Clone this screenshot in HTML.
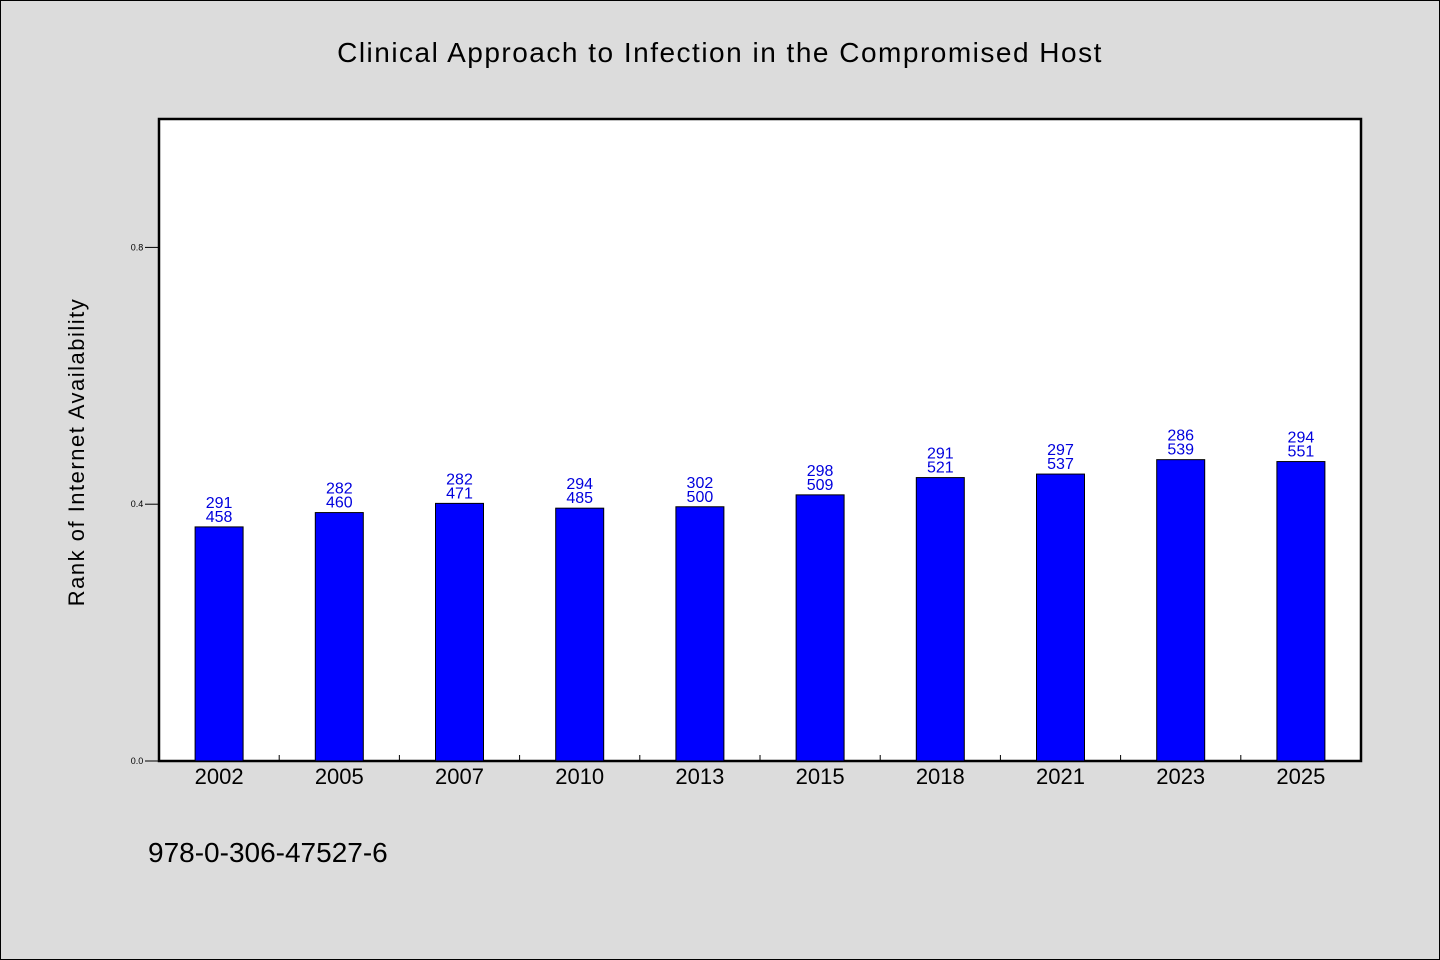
<!DOCTYPE html>
<html><head><meta charset="utf-8"><style>
html,body{margin:0;padding:0;background:#dcdcdc;}
svg{display:block;font-family:"WenQuanYi Zen Hei","Liberation Sans",sans-serif;}
</style></head><body>
<svg id="chart" width="1440" height="960">
<rect x="0.5" y="0.5" width="1439" height="959" fill="#dcdcdc" stroke="#000"/>
<text x="720" y="62" text-anchor="middle" font-size="28" letter-spacing="1.5">Clinical Approach to Infection in the Compromised Host</text>
<rect x="159" y="119" width="1202" height="642" fill="#fff" stroke="#000" stroke-width="2.5"/>
<text transform="translate(84,452) rotate(-90)" text-anchor="middle" font-size="22" letter-spacing="1.5">Rank of Internet Availability</text>
<text x="148" y="862" font-size="28">978-0-306-47527-6</text>
<g id="marks"></g>
</svg>
<script>
const categories=["2002","2005","2007","2010","2013","2015","2018","2021","2023","2025"];
const topLabels=[291,282,282,294,302,298,291,297,286,294];
const bottomLabels=[458,460,471,485,500,509,521,537,539,551];
const yTicks=[0.0,0.4,0.8];
const yTickLabels=["0.0","0.4","0.8"];
const NS="http://www.w3.org/2000/svg";
const g=document.getElementById('marks');
const L=159,R=1361,T=119,B=761;
const bw=(R-L)/categories.length;
function y(v){return B-v*(B-T);}
function xc(i){return L+bw*(i+0.5);}
function mk(t,a){const e=document.createElementNS(NS,t);for(const k in a)e.setAttribute(k,a[k]);g.appendChild(e);return e;}
yTicks.forEach((v,i)=>{
 const l=mk('line',{x1:L-14,x2:L,y1:y(v),y2:y(v),stroke:'#000'});
 
 
 const t=mk('text',{x:L-22,y:y(v)+3,'font-size':9,'text-anchor':'middle'});
 t.textContent=yTickLabels[i];
 
 
});
categories.forEach((c,i)=>{
 const v=(bottomLabels[i]-topLabels[i])/bottomLabels[i];
 const cx=xc(i);
 const r=mk('rect',{x:cx-24,y:y(v),width:48,height:B-y(v),fill:'#0000ff',stroke:'#000'});
 
 
 const t1=mk('text',{x:cx,y:y(v)-19,'font-size':16,'text-anchor':'middle',fill:'#0000dd'});
 t1.textContent=topLabels[i];
 
 
 const t2=mk('text',{x:cx,y:y(v)-5,'font-size':16,'text-anchor':'middle',fill:'#0000dd'});
 t2.textContent=bottomLabels[i];
 
 
 const xl=mk('text',{x:cx,y:B+23,'font-size':22,'text-anchor':'middle'});
 xl.textContent=c;
 
 
 if(i>0){
  const tk=mk('line',{x1:L+bw*i,x2:L+bw*i,y1:B,y2:B-6,stroke:'#000'});
  
  
 }
});
</script>
</body></html>
